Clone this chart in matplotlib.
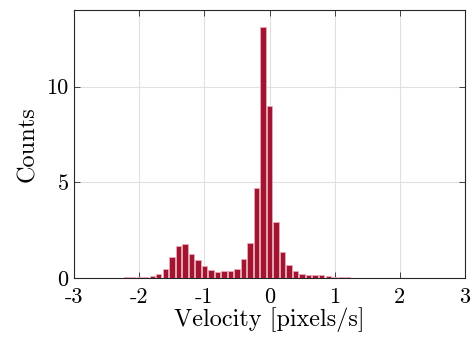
import numpy as np
import matplotlib
matplotlib.use("Agg")
import matplotlib.pyplot as plt

# histogram bins (centres) and counts
bin_centres = np.round(np.arange(-2.5, 1.85, 0.1), 2)
counts = [0.01, 0.015, 0.02, 0.04, 0.05, 0.07, 0.07, 0.11, 0.20, 0.47,
          1.08, 1.68, 1.77, 1.26, 0.93, 0.63, 0.40, 0.33, 0.37, 0.38,
          0.49, 1.00, 1.85, 4.70, 13.13, 8.97, 2.94, 1.35, 0.66, 0.35,
          0.21, 0.17, 0.14, 0.14, 0.10, 0.05, 0.03, 0.025, 0.02, 0.015,
          0.015, 0.01, 0.01, 0.01]

xticks = [-3, -2, -1, 0, 1, 2, 3]
yticks = [0, 5, 10]

plt.rcParams['font.family'] = 'serif'
plt.rcParams['font.serif'] = ['cmr10']
plt.rcParams['mathtext.fontset'] = 'cm'
plt.rcParams['axes.unicode_minus'] = False

px = 1/100
fig = plt.figure(figsize=(475*px, 344*px), dpi=100)
ax = fig.add_axes([0.156, 0.192, 0.823, 0.779])

ax.bar(bin_centres, counts, width=0.082, color='#A2142F',
       edgecolor='#e7a9b6', linewidth=0.6, zorder=3)

ax.set_xlim(-3, 3)
ax.set_ylim(0, 14)
ax.set_xticks(xticks)
ax.set_yticks(yticks)
ax.grid(True, color='#e0e0e0', linewidth=0.8, zorder=0)
ax.tick_params(direction='in', top=True, right=True, length=4,
               width=0.6, labelsize=16, colors='#262626', pad=4)
ax.tick_params(axis='x', pad=7)
ax.tick_params(labelcolor='black')
for s in ax.spines.values():
    s.set_linewidth(0.8)
    s.set_color('#262626')

ax.set_xlabel('Velocity [pixels/s]', fontsize=17.5, labelpad=0)
ax.set_ylabel('Counts', fontsize=17.5, labelpad=5)

fig.savefig('out.png', dpi=100)
